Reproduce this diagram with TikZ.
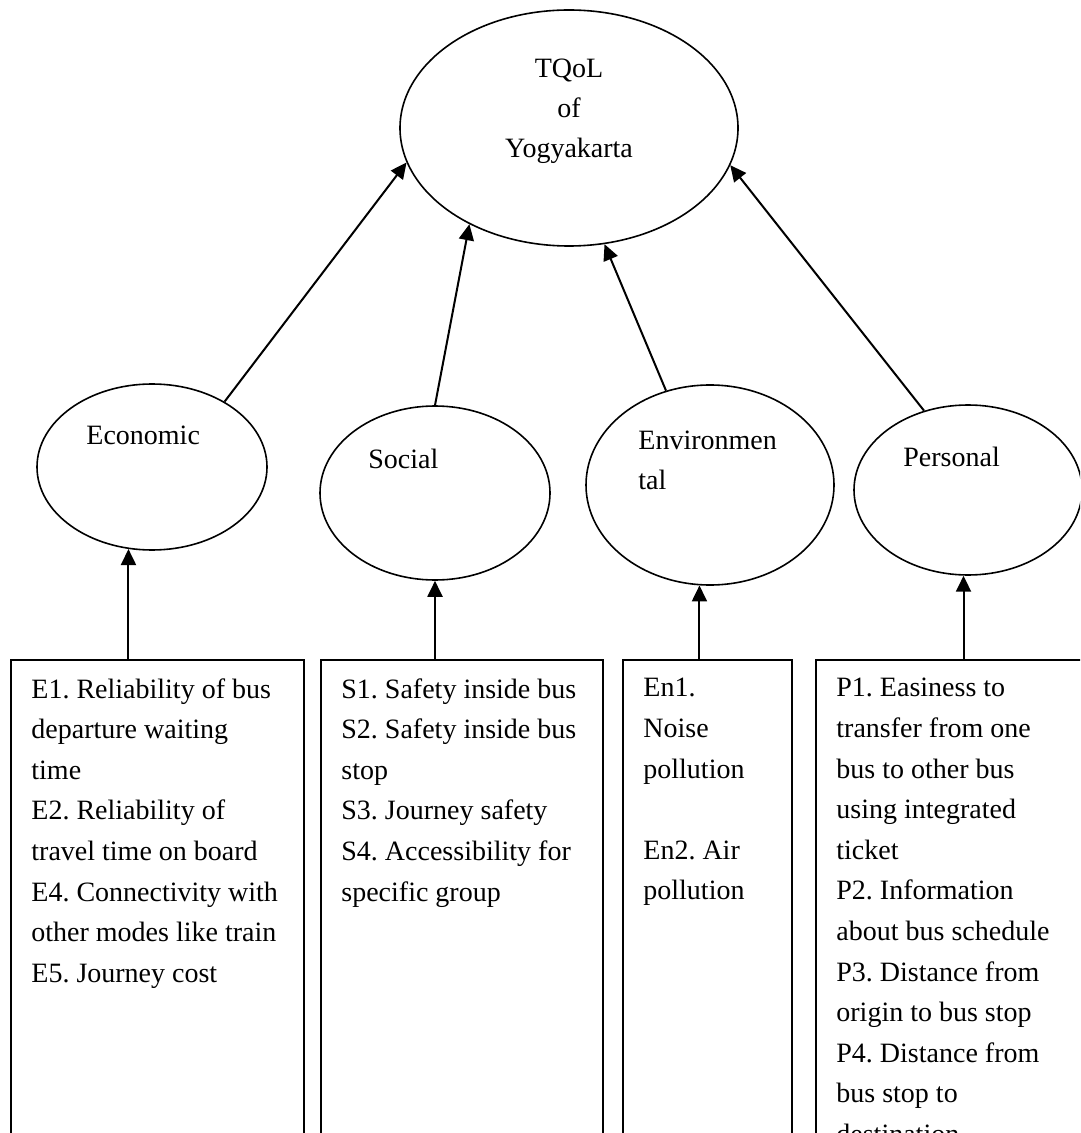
\documentclass[tikz,border=0pt]{standalone}
\usepackage{fontspec}
\setmainfont{Liberation Serif}
\usetikzlibrary{arrows.meta,shapes.geometric}
\frenchspacing

\begin{document}
\begin{tikzpicture}[x=0.5pt, y=-0.5pt,
    oval/.style={draw, ellipse, line width=.8pt, inner sep=0pt},
    itembox/.style={draw, rectangle, line width=1pt, anchor=north west, minimum height=252pt, inner sep=0pt},
    itemtext/.style={anchor=north west, align=left, inner sep=0pt, font=\fontsize{14}{20.3}\selectfont},
    lbl/.style={anchor=north west, align=left, inner sep=0pt, font=\fontsize{14}{20}\selectfont},
    arr/.style={line width=1pt, -{Triangle[length=8pt, width=7.5pt]}}]
  \useasboundingbox (0,0) rectangle (1080,1133);
  \clip (0,0) rectangle (1080,1133);

  % ellipses
  \node [oval, minimum width=169pt, minimum height=118pt] (tqol) at (569,128) {};
  \node [oval, minimum width=115pt, minimum height=83pt] (econ) at (152,467) {};
  \node [oval, minimum width=115pt, minimum height=87pt] (social) at (435,493) {};
  \node [oval, minimum width=124pt, minimum height=100pt] (env) at (710,485) {};
  \node [oval, minimum width=114pt, minimum height=85pt] (pers) at (968,490) {};

  \node [lbl, anchor=north, align=center] (tqoltxt) at (569,59) {TQoL\\of\\Yogyakarta};
  \node [lbl] (econtxt) at (86,426) {Economic};
  \node [lbl] (socialtxt) at (368,449) {Social};
  \node [lbl] (envtxt) at (638,431) {Environmen\\tal};
  \node [lbl] (perstxt) at (903,447) {Personal};

  % indicator boxes
  \node [itembox, minimum width=146.5pt] (ebox) at (10,659) {};
  \node [itembox, minimum width=141pt] (sbox) at (320,659) {};
  \node [itembox, minimum width=84.5pt] (enbox) at (622,659) {};
  \node [itembox, minimum width=145pt] (pbox) at (815,659) {};

  \node [itemtext] (etxt) at ([xshift=10.5pt,yshift=-9.5pt]ebox.north west)
    {E1. Reliability of bus\\departure waiting\\time\\E2. Reliability of\\travel time on board\\E4. Connectivity with\\other modes like train\\E5. Journey cost};
  \node [itemtext] (stxt) at ([xshift=10.5pt,yshift=-9.5pt]sbox.north west)
    {S1. Safety inside bus\\S2. Safety inside bus\\stop\\S3. Journey safety\\S4. Accessibility for\\specific group};
  \node [itemtext] (entxt) at ([xshift=10.5pt,yshift=-9.5pt]enbox.north west)
    {En1.\\Noise\\pollution\\\mbox{}\\En2. Air\\pollution};
  \node [itemtext] (ptxt) at ([xshift=10.5pt,yshift=-9.5pt]pbox.north west)
    {P1. Easiness to\\transfer from one\\bus to other bus\\using integrated\\ticket\\P2. Information\\about bus schedule\\P3. Distance from\\origin to bus stop\\P4. Distance from\\bus stop to\\destination};

  % arrows
  \draw [arr] (econ.-106 |- ebox.north) -- (econ.-106);
  \draw [arr] (social.south |- sbox.north) -- (social.south);
  \draw [arr] (env.-96 |- enbox.north) -- (env.-96);
  \draw [arr] (pers.-93 |- pbox.north) -- (pers.-93);

  \draw [arr] (econ.42) -- (tqol.192);
  \draw [arr] (social.north) -- (tqol.224);
  \draw [arr] (env.115) -- (tqol.287);
  \draw [arr] (pers.119) -- (tqol.347);
\end{tikzpicture}
\end{document}
